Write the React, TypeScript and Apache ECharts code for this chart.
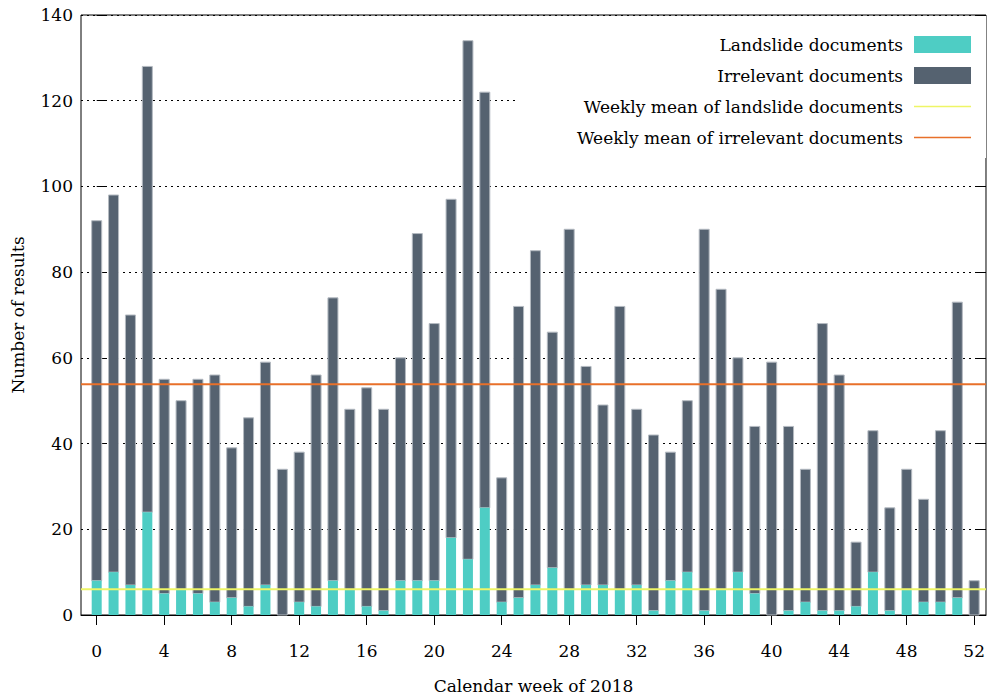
import React, { useEffect, useRef } from "react";
import * as echarts from "echarts";

const weeks: number[] = Array.from({ length: 53 }, (_, i) => i);
const landslide: number[] = [
  8, 10, 7, 24, 5, 6, 5, 3, 4, 2, 7, 0, 3, 2, 8, 6, 2, 1, 8, 8, 8, 18, 13, 25, 3, 4, 7,
  11, 6, 7, 7, 6, 7, 1, 8, 10, 1, 6, 10, 5, 0, 1, 3, 1, 1, 2, 10, 1, 6, 3, 3, 4, 0,
];
const totals: number[] = [
  92, 98, 70, 128, 55, 50, 55, 56, 39, 46, 59, 34, 38, 56, 74, 48, 53, 48, 60, 89, 68, 97,
  134, 122, 32, 72, 85, 66, 90, 58, 49, 72, 48, 42, 38, 50, 90, 76, 60, 44, 59, 44, 34, 68,
  56, 17, 43, 25, 34, 27, 43, 73, 8,
];
const irrelevant: number[] = totals.map((t, i) => t - landslide[i]);
const xTickValues: number[] = [0, 4, 8, 12, 16, 20, 24, 28, 32, 36, 40, 44, 48, 52];
const seriesNames = [
  "Landslide documents",
  "Irrelevant documents",
  "Weekly mean of landslide documents",
  "Weekly mean of irrelevant documents",
];

const X_MIN = -0.93;
const X_MAX = 52.7;
const FONT = "DejaVu Serif";
const FS = 17;
const LINE_ICON = "path://M0,0 L100,0 L100,3 L0,3 Z";

export default function App() {
  const ref = useRef<HTMLDivElement>(null);
  useEffect(() => {
    if (!ref.current) return;
    const chart = echarts.init(ref.current, undefined, { renderer: "svg" });
    const meanL = landslide.reduce((a, b) => a + b, 0) / landslide.length;
    const meanI = irrelevant.reduce((a, b) => a + b, 0) / irrelevant.length;
    const yAxisBase = {
      type: "value" as const,
      min: 0,
      max: 140,
      interval: 20,
      axisLine: { show: false },
      axisTick: { show: true, inside: true, length: 10, lineStyle: { color: "#000" } },
    };
    chart.setOption({
      animation: false,
      backgroundColor: "#fff",
      grid: {
        left: 81,
        top: 15,
        width: 906,
        height: 603,
        show: true,
        borderColor: "#000",
        borderWidth: 1,
        containLabel: false,
      },
      legend: {
        orient: "vertical",
        right: 12,
        top: 31,
        align: "right",
        itemWidth: 57,
        itemHeight: 17,
        itemGap: 14,
        z: 10,
        symbolKeepAspect: true,
        data: [
          { name: seriesNames[0], icon: "rect" },
          { name: seriesNames[1], icon: "rect" },
          { name: seriesNames[2], icon: LINE_ICON, itemStyle: { color: "#eef566" } },
          { name: seriesNames[3], icon: LINE_ICON, itemStyle: { color: "#e8702a" } },
        ],
        textStyle: { fontFamily: FONT, fontSize: FS, color: "#000", padding: [0, 6, 0, 0] },
        selectedMode: false,
      },
      graphic: [
        {
          type: "rect",
          z: 3,
          shape: { x: 517, y: 16, width: 469, height: 142 },
          style: { fill: "#fff" },
          silent: true,
        },
      ],
      xAxis: {
        type: "value",
        min: X_MIN,
        max: X_MAX,
        name: "Calendar week of 2018",
        nameLocation: "middle",
        nameGap: 62,
        nameTextStyle: { fontFamily: FONT, fontSize: FS, color: "#000" },
        splitLine: { show: false },
        axisLine: { show: true, onZero: false, lineStyle: { color: "#000" } },
        axisTick: {
          show: true,
          inside: false,
          length: 10,
          customValues: xTickValues,
          lineStyle: { color: "#000" },
        },
        axisLabel: {
          customValues: xTickValues,
          margin: 27,
          fontFamily: FONT,
          fontSize: FS,
          color: "#000",
        },
      },
      yAxis: [
        {
          ...yAxisBase,
          position: "left",
          name: "Number of results",
          nameLocation: "middle",
          nameGap: 55,
          nameTextStyle: { fontFamily: FONT, fontSize: FS, color: "#000" },
          axisLabel: { margin: 8, fontFamily: FONT, fontSize: FS, color: "#000" },
          splitLine: { show: true, lineStyle: { color: "#000", type: [2, 4], width: 1 } },
        },
        {
          ...yAxisBase,
          position: "right",
          axisLabel: { show: false },
          splitLine: { show: false },
        },
      ],
      series: [
        {
          name: seriesNames[0],
          type: "bar",
          barWidth: 10,
          data: weeks.map((w, i) => [w, landslide[i]]),
          itemStyle: { color: "#4ecdc4" },
          z: 2,
        },
        {
          name: seriesNames[1],
          type: "custom",
          data: weeks.map((w, i) => [w, landslide[i], landslide[i] + irrelevant[i]]),
          encode: { x: 0, y: [1, 2] },
          itemStyle: { color: "#556270" },
          renderItem: (params: any, api: any) => {
            const x = api.value(0);
            const lo = api.coord([x, api.value(1)]);
            const hi = api.coord([x, api.value(2)]);
            return {
              type: "rect",
              shape: { x: lo[0] - 5, y: hi[1], width: 10, height: lo[1] - hi[1] },
              style: { fill: "#556270", stroke: "#b4bac1", lineWidth: 1 },
            };
          },
          z: 2,
        },
        {
          name: seriesNames[2],
          type: "line",
          symbol: "none",
          data: [
            [X_MIN, meanL],
            [X_MAX, meanL],
          ],
          lineStyle: { color: "#eef566", width: 2 },
          itemStyle: { color: "#eef566" },
          z: 3,
        },
        {
          name: seriesNames[3],
          type: "line",
          symbol: "none",
          data: [
            [X_MIN, meanI],
            [X_MAX, meanI],
          ],
          lineStyle: { color: "#e8702a", width: 2 },
          itemStyle: { color: "#e8702a" },
          z: 3,
        },
      ],
    });
    return () => chart.dispose();
  }, []);
  return <div ref={ref} style={{ width: 988, height: 699, position: "absolute", left: 0, top: 0 }} />;
}
